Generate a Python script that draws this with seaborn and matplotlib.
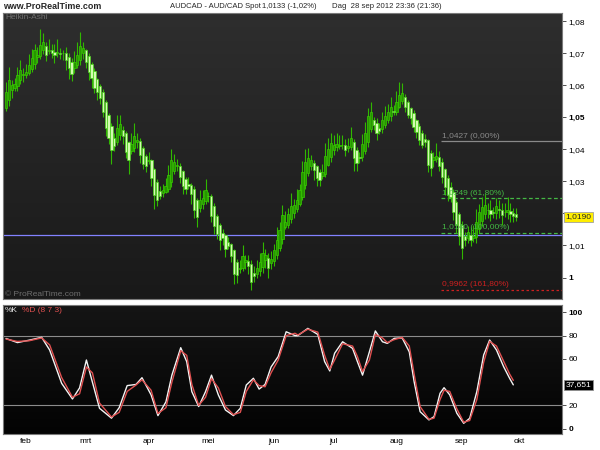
import numpy as np
import pandas as pd
import matplotlib
matplotlib.use('Agg')
import matplotlib.pyplot as plt
import seaborn as sns
from matplotlib.colors import LinearSegmentedColormap

# =====================
# DATA
# =====================
# Heikin-Ashi close per trading day, 23 jan .. 28 sep 2012
ha_close = [
    1.0579, 1.0617, 1.0601, 1.0604, 1.0632, 1.0648, 1.0635, 1.0642, 1.0663, 1.0685,
    1.0710, 1.0695, 1.0726, 1.0735, 1.0695, 1.0710, 1.0701, 1.0695, 1.0704, 1.0698,
    1.0701, 1.0679, 1.0654, 1.0635, 1.0673, 1.0695, 1.0723, 1.0717, 1.0673, 1.0642,
    1.0623, 1.0592, 1.0579, 1.0561, 1.0517, 1.0467, 1.0436, 1.0398, 1.0411, 1.0467,
    1.0479, 1.0442, 1.0392, 1.0367, 1.0417, 1.0442, 1.0430, 1.0383, 1.0355, 1.0348,
    1.0367, 1.0311, 1.0258, 1.0242, 1.0255, 1.0273, 1.0286, 1.0320, 1.0367, 1.0361,
    1.0351, 1.0314, 1.0286, 1.0276, 1.0286, 1.0261, 1.0211, 1.0189, 1.0242, 1.0248,
    1.0273, 1.0255, 1.0192, 1.0161, 1.0136, 1.0117, 1.0123, 1.0089, 1.0098, 1.0067,
    1.0011, 1.0008, 1.0030, 1.0067, 1.0054, 1.0036, 0.9986, 1.0005, 1.0030, 1.0048,
    1.0076, 1.0070, 1.0030, 1.0058, 1.0086, 1.0117, 1.0148, 1.0195, 1.0173, 1.0198,
    1.0223, 1.0226, 1.0242, 1.0273, 1.0330, 1.0361, 1.0373, 1.0367, 1.0336, 1.0311,
    1.0305, 1.0330, 1.0380, 1.0401, 1.0420, 1.0414, 1.0417, 1.0414, 1.0414, 1.0398,
    1.0411, 1.0436, 1.0373, 1.0358, 1.0373, 1.0417, 1.0451, 1.0505, 1.0517, 1.0476,
    1.0451, 1.0458, 1.0492, 1.0505, 1.0517, 1.0533, 1.0517, 1.0548, 1.0570, 1.0576,
    1.0533, 1.0508, 1.0498, 1.0470, 1.0455, 1.0430, 1.0414, 1.0423, 1.0351, 1.0342,
    1.0376, 1.0380, 1.0348, 1.0314, 1.0283, 1.0258, 1.0251, 1.0204, 1.0164, 1.0130,
    1.0092, 1.0117, 1.0142, 1.0117, 1.0130, 1.0173, 1.0204, 1.0220, 1.0226, 1.0211,
    1.0198, 1.0201, 1.0223, 1.0211, 1.0195, 1.0204, 1.0211, 1.0198, 1.0192, 1.0190,
]
ha_open0 = 1.0530

# wick lengths above / below the body, in pips
wick_up = [
    30, 40, 15, 20, 25, 30, 20, 25, 35, 30, 20, 25, 50, 30,
    15, 35, 20, 25, 40, 15, 10, 20, 10, 15, 35, 40, 45, 20,
    5, 10, 5, 10, 5, 5, 10, 5, 5, 10,
    15, 40, 30, 10, 5, 5, 35, 40, 20, 10, 5, 5, 25,
    5, 5, 10,
    15, 20, 25, 30, 35, 25, 20,
    10, 5, 5, 20, 5, 10, 5,
    30, 25, 35, 10,
    5, 10, 5, 5, 10, 5, 15, 5, 5, 10,
    25, 35, 15, 20, 10, 20, 25, 30, 35, 20, 15, 25,
    20, 40, 25, 30, 35, 20, 40, 20, 35, 20, 35, 40, 30,
    15, 10, 5, 10, 25,
    40, 35, 30, 30, 35, 30, 30, 20, 25, 35,
    10, 10, 15,
    30, 35, 25, 30,
    10, 15, 15,
    25, 30, 25, 30, 20, 35, 40, 30,
    10, 5, 5, 10, 5, 10, 10, 15, 5, 10, 15, 40,
    20, 10, 5, 10, 15, 10, 5, 5, 10,
    15, 20, 25, 35, 40, 25, 30,
    35, 20, 30, 15, 25, 30, 20, 30, 40, 25, 15, 20,
]
wick_dn = [
    10, 20, 25, 10, 15, 10, 20, 10, 5, 10, 15, 20, 10, 10,
    20, 10, 15, 25, 10, 15, 20, 30, 35, 20, 15, 10, 15, 20,
    20, 25, 30, 15, 25, 20, 15, 25, 20, 45,
    15, 10, 15, 25, 20, 45, 10, 15, 20, 25, 15, 20, 10,
    25, 45, 20,
    10, 10, 5, 10, 15, 10, 15,
    20, 25, 15, 10, 30, 25, 30,
    10, 15, 10, 20,
    20, 25, 15, 30, 20, 25, 10, 20, 30, 25,
    15, 10, 20, 25, 25, 20, 10, 15, 20, 25, 30, 20,
    15, 10, 10, 15, 5, 10, 10, 15, 10, 5, 10, 15, 10,
    15, 30, 25, 20, 10,
    10, 5, 15, 15, 10, 10, 10, 20, 15, 10,
    40, 25, 15,
    10, 10, 15, 10,
    15, 20, 10,
    10, 10, 10, 15, 10, 10, 5, 10,
    15, 10, 20, 15, 20, 15, 10, 15, 20, 25, 20, 10,
    15, 20, 25, 20, 15, 25, 25, 30, 35,
    20, 15, 20, 15, 20, 10, 15,
    15, 25, 20, 15, 20, 25, 30, 15, 20, 25, 20, 15,
]

# stochastic (8 7 3): bar position, %K and %D
stoch_x = [0, 4, 8, 12.5, 15.3, 19.5, 23.3, 25.8, 28.2, 30.3, 32.8, 37, 39.7, 42.5,
           45.6, 47.7, 50.9, 53.3, 56.1, 58.2, 61.3, 63.4, 65.2, 67.6, 70, 72.1,
           74.5, 77, 79.8, 82.2, 84.3, 86.8, 88.8, 90.9, 93, 95.5, 98.3, 101.4,
           102.4, 105.9, 109.4, 111.8, 113.6, 115.3, 118.1, 121.6, 123.3, 125.1,
           127.5, 129.6, 132.1, 133.8, 136.2, 139, 141.5, 143.2, 145.3, 148.4,
           150.2, 152.3, 153.7, 155.7, 158.2, 160.6, 162.7, 165.2, 167.6, 169.7,
           172.1, 174.6, 176.7, 178]
stoch_k = [77.5, 74, 76, 78.5, 67.6, 39, 25.5, 35, 59, 40, 17.5, 9, 18, 37,
           38, 43.8, 29, 11.2, 23, 46, 69.6, 57.6, 31.8, 19, 31.8, 46,
           29, 16, 11.2, 17.5, 37.5, 43.3, 34, 38, 53, 62, 83.3, 80,
           80, 86.2, 81, 57.6, 49.6, 64.8, 74.7, 69, 57.6, 46,
           66, 84, 74.7, 73.3, 77.6, 78, 66, 40.4, 14.6, 7.5,
           10.3, 30.4, 35.2, 29, 13.2, 4.6, 8.9, 31.8, 63.3, 76.2,
           67.6, 53.3, 43.3, 37.651]
stoch_d = [77, 75, 75.5, 78, 72, 44, 27, 30, 53, 48, 22, 10, 14, 32,
           37.5, 42, 33, 13, 18, 40, 67, 63, 38, 20, 27, 43,
           35, 19, 12, 14, 32, 42, 37, 36, 48, 59, 80, 82,
           80.5, 85.5, 83, 63, 51, 59, 73, 71, 62, 49,
           59, 81, 78, 74, 76.5, 78.5, 71, 47, 19, 8,
           9, 25, 33, 32, 17, 5.5, 7, 25, 57, 75,
           71, 58, 47, 41.5]

month_labels = ['feb', 'mrt', 'apr', 'mei', 'jun', 'jul', 'aug', 'sep', 'okt']
month_idx = [7, 28, 50, 71, 94, 115, 137, 160, 180]

price_ticks = [1.00, 1.01, 1.02, 1.03, 1.04, 1.05, 1.06, 1.07, 1.08]
price_ticklabels = ['1', '1,01', '', '1,03', '1,04', '1,05', '1,06', '1,07', '1,08']
stoch_ticks = [0, 20, 60, 80, 100]
stoch_ticklabels = ['0', '20', '60', '80', '100']

fib_start = 152.6
fib_levels = [1.0427, 1.0249, 1.0140, 0.9962]
fib_labels = ['1,0427 (0,00%)', '1,0249 (61,80%)', '1,0140 (100,00%)', '0,9962 (161,80%)']
last_spot = 1.0133
last_price = 1.0190
last_stoch = 37.651

# =====================
# HEIKIN-ASHI BODIES
# =====================
n = len(ha_close)
ha_open = [ha_open0]
for i in range(1, n):
    ha_open.append((ha_open[i - 1] + ha_close[i - 1]) / 2)

df = pd.DataFrame({'idx': np.arange(n), 'open': ha_open, 'close': ha_close})
df['top'] = df[['open', 'close']].max(axis=1)
df['bot'] = df[['open', 'close']].min(axis=1)
df['high'] = df['top'] + np.array(wick_up) / 10000
df['low'] = df['bot'] - np.array(wick_dn) / 10000
df['up'] = df['close'] >= df['open']

# =====================
# STYLE
# =====================
sns.set_theme(style='dark')
plt.rcParams['font.family'] = ['Liberation Sans', 'DejaVu Sans']
plt.rcParams['axes.grid'] = False

fig = plt.figure(figsize=(6, 4.5), dpi=100, facecolor='white')
ax = fig.add_axes([0.005, 0.3356, 0.9317, 0.6355])
ax2 = fig.add_axes([0.005, 0.0356, 0.9317, 0.2866])

xmin, xmax = -1.07, 195.1
pmin, pmax = 0.9933, 1.0826
smin, smax = -4.6, 106.3

# background gradients
grad = np.linspace(0, 1, 256).reshape(-1, 1)
ax.imshow(grad, aspect='auto', extent=[xmin, xmax, pmin, pmax], origin='upper',
          cmap=LinearSegmentedColormap.from_list('bg1', ['#2e2e2e', '#191919']), zorder=0)
ax2.imshow(grad, aspect='auto', extent=[xmin, xmax, smin, smax], origin='upper',
           cmap=LinearSegmentedColormap.from_list('bg2', ['#151515', '#030303']), zorder=0)

# =====================
# PRICE PANEL
# =====================
ax.axhline(last_spot, color='#8282ff', lw=0.9, zorder=1)

ax.vlines(df['idx'], df['low'], df['high'], color='#30b800', lw=0.8, zorder=2)
up = df[df['up']]
dn = df[~df['up']]
ax.bar(up['idx'], up['top'] - up['bot'], bottom=up['bot'], width=0.8,
       color='#269600', edgecolor='#38cc00', linewidth=0.5, zorder=3)
ax.bar(dn['idx'], dn['top'] - dn['bot'], bottom=dn['bot'], width=0.8,
       color='#d2fbb0', edgecolor='#4cd41c', linewidth=0.5, zorder=3)

fib_styles = [('#8a8a8a', '-'), ('#44b844', (0, (3, 2))), ('#44b844', (0, (3, 2))), ('#cc2020', (0, (2, 2)))]
for lvl, lab, (col, ls) in zip(fib_levels, fib_labels, fib_styles):
    ax.hlines(lvl, fib_start, xmax, color=col, lw=0.9, linestyles=[ls], zorder=1.5)
    ax.text(fib_start + 0.5, lvl + 0.0004, lab, color=col, fontsize=6, va='bottom', ha='left', zorder=4)

ax.text(0.004, 0.995, 'Heikin-Ashi', transform=ax.transAxes, color='#6e6e6e', fontsize=6, va='top')
ax.text(0.004, 0.004, '\u00a9 ProRealTime.com', transform=ax.transAxes, color='#6e6e6e', fontsize=6, va='bottom')

ax.set_xlim(xmin, xmax)
ax.set_ylim(pmin, pmax)
ax.set_xticks([])
ax.yaxis.tick_right()
ax.set_yticks(price_ticks)
ax.set_yticklabels(price_ticklabels)
for t, lab in zip(ax.get_yticklabels(), price_ticklabels):
    if lab in ('1,05', '1'):
        t.set_fontweight('bold')
ax.tick_params(axis='y', labelsize=6, colors='#333333', length=3, width=0.6, pad=1.5, labelcolor='black')

ax.text(1.006, last_price, '1,0190', transform=ax.get_yaxis_transform(), fontsize=6, va='center', ha='left',
        bbox=dict(boxstyle='square,pad=0.2', facecolor='#ffee00', edgecolor='#a0a0a0', linewidth=0.6))

# =====================
# STOCHASTIC PANEL
# =====================
for lvl in (80, 20):
    ax2.axhline(lvl, color='#8c8c8c', lw=0.8, zorder=1)

sns.lineplot(x=stoch_x, y=stoch_k, color='#f4f4f4', lw=1.0, ax=ax2, zorder=3)
sns.lineplot(x=stoch_x, y=stoch_d, color='#e05050', lw=1.0, ax=ax2, zorder=3)

ax2.text(0.004, 0.985, '%K', transform=ax2.transAxes, color='#e8e8e8', fontsize=6, va='top')
ax2.text(0.034, 0.985, '%D (8 7 3)', transform=ax2.transAxes, color='#e05050', fontsize=6, va='top')

ax2.set_xlim(xmin, xmax)
ax2.set_ylim(smin, smax)
ax2.set_xticks(month_idx)
ax2.set_xticklabels(month_labels)
ax2.tick_params(axis='x', labelsize=6, length=0, pad=3, labelcolor='black')
ax2.yaxis.tick_right()
ax2.set_yticks(stoch_ticks)
ax2.set_yticklabels(stoch_ticklabels)
for t, lab in zip(ax2.get_yticklabels(), stoch_ticklabels):
    if lab in ('100', '0'):
        t.set_fontweight('bold')
ax2.tick_params(axis='y', labelsize=6, colors='#333333', length=3, width=0.6, pad=1.5, labelcolor='black')
ax2.set_xlabel('')
ax2.set_ylabel('')

ax2.text(1.006, last_stoch, '37,651', transform=ax2.get_yaxis_transform(), fontsize=6, va='center',
         ha='left', color='white',
         bbox=dict(boxstyle='square,pad=0.2', facecolor='black', edgecolor='#909090', linewidth=0.6))

for a in (ax, ax2):
    for s in a.spines.values():
        s.set_color('#7a7a7a')
        s.set_linewidth(0.8)

# =====================
# HEADER
# =====================
fig.text(0.005, 0.985, 'www.ProRealTime.com', fontsize=6.4, fontweight='bold', va='center', ha='left')
fig.text(0.283, 0.985, 'AUDCAD - AUD/CAD Spot', fontsize=5.5, va='center', ha='left')
fig.text(0.437, 0.985, '1,0133 (-1,02%)', fontsize=5.5, va='center', ha='left')
fig.text(0.553, 0.985, 'Dag  28 sep 2012 23:36 (21:36)', fontsize=5.6, va='center', ha='left')

fig.savefig('out.png', dpi=100, facecolor='white')
